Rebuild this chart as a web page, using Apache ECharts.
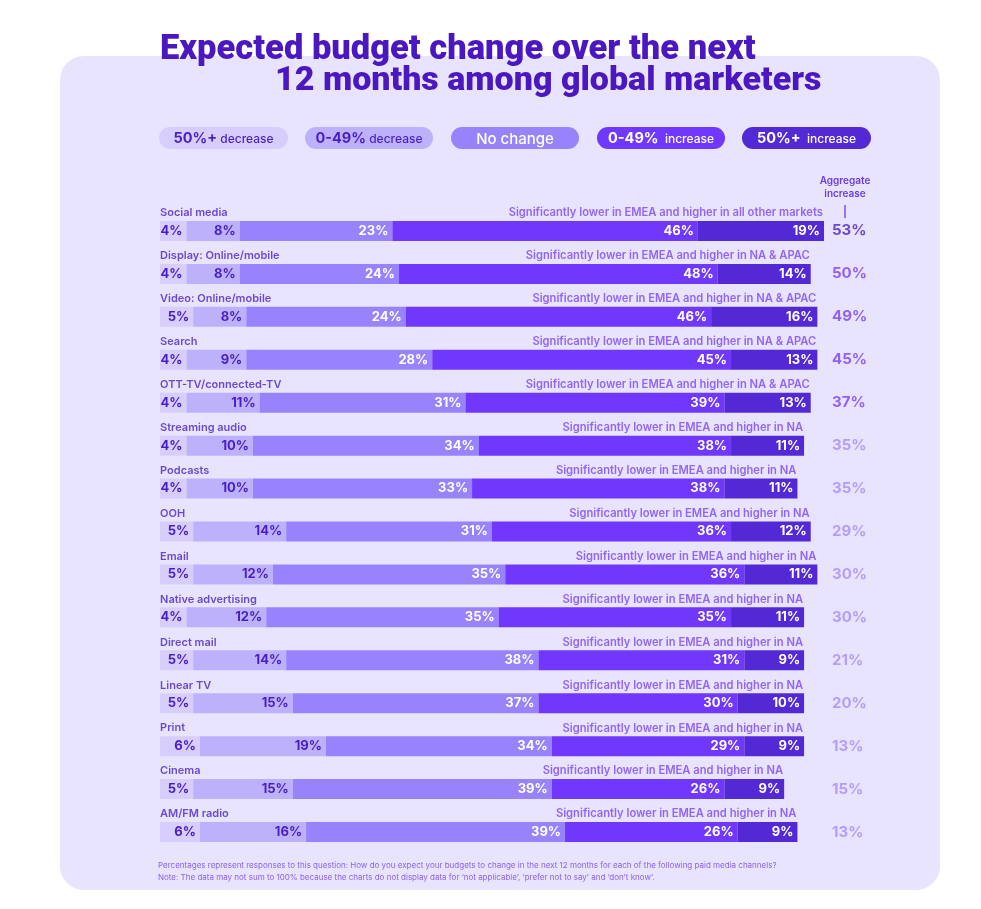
<!DOCTYPE html>
<html>
<head>
<meta charset="utf-8">
<script src="https://cdn.jsdelivr.net/npm/echarts@6/dist/echarts.min.js"></script>
<style>
html,body{margin:0;padding:0;background:#ffffff;}
#chart{width:981px;height:909px;}
</style>
</head>
<body>
<div id="chart"></div>
<script>
const categories = ["Social media","Display: Online/mobile","Video: Online/mobile","Search","OTT-TV/connected-TV","Streaming audio","Podcasts","OOH","Email","Native advertising","Direct mail","Linear TV","Print","Cinema","AM/FM radio"];
const seriesNames = ["50%+ decrease","0-49% decrease","No change","0-49% increase","50%+ increase"];
const dec50 = [4,4,5,4,4,4,4,5,5,4,5,5,6,5,6];
const dec049 = [8,8,8,9,11,10,10,14,12,12,14,15,19,15,16];
const noChange = [23,24,24,28,31,34,33,31,35,35,38,37,34,39,39];
const inc049 = [46,48,46,45,39,38,38,36,36,35,31,30,29,26,26];
const inc50 = [19,14,16,13,13,11,11,12,11,11,9,10,9,9,9];
const aggregate = [53,50,49,45,37,35,35,29,30,30,21,20,13,15,13];
const notes = [
 "Significantly lower in EMEA and higher in all other markets",
 "Significantly lower in EMEA and higher in NA & APAC",
 "Significantly lower in EMEA and higher in NA & APAC",
 "Significantly lower in EMEA and higher in NA & APAC",
 "Significantly lower in EMEA and higher in NA & APAC",
 "Significantly lower in EMEA and higher in NA",
 "Significantly lower in EMEA and higher in NA",
 "Significantly lower in EMEA and higher in NA",
 "Significantly lower in EMEA and higher in NA",
 "Significantly lower in EMEA and higher in NA",
 "Significantly lower in EMEA and higher in NA",
 "Significantly lower in EMEA and higher in NA",
 "Significantly lower in EMEA and higher in NA",
 "Significantly lower in EMEA and higher in NA",
 "Significantly lower in EMEA and higher in NA"
];
const footnote1 = "Percentages represent responses to this question: How do you expect your budgets to change in the next 12 months for each of the following paid media channels?";
const footnote2 = "Note: The data may not sum to 100% because the charts do not display data for \u2018not applicable\u2019, \u2018prefer not to say\u2019 and \u2018don\u2019t know\u2019.";
const titleLine1 = "Expected budget change over the next";
const titleLine2 = "12 months among global marketers";

const colors = ['#d8cefd','#bdb1fc','#9883fd','#6f38fc','#5329d5'];
const labelColors = ['#4a1fc2','#4a1fc2','#ffffff','#ffffff','#ffffff'];
const segData = [dec50, dec049, noChange, inc049, inc50];
const FONT = 'Inter, "Noto Sans", sans-serif';

const chart = echarts.init(document.getElementById('chart'));

const barSeries = segData.map((arr, i) => ({
  name: seriesNames[i],
  type: 'bar',
  stack: 'total',
  barWidth: 20,
  silent: true,
  itemStyle: {color: colors[i]},
  label: {
    show: true, position: 'insideRight', distance: 4,
    formatter: p => p.value + '%',
    color: labelColors[i], fontFamily: FONT, fontWeight: 700, fontSize: 13
  },
  data: arr
}));

const totals = categories.map((c, i) => segData.reduce((s, a) => s + a[i], 0));

function aggColor(i){
  if (i === 0) return '#4a22c4';
  if (aggregate[i] >= 37) return '#7a3ff6';
  return '#a78bf8';
}

const nameSeries = {
  type: 'scatter', symbolSize: 0.1, silent: true, itemStyle: {color: 'transparent'},
  label: {show: true, position: 'right', distance: 0, offset: [0, -18],
    formatter: p => categories[p.dataIndex], color: '#4a22c4', fontFamily: FONT, fontWeight: 600, fontSize: 11},
  data: categories.map((c, i) => [0, i])
};
const noteSeries = {
  type: 'scatter', symbolSize: 0.1, silent: true, itemStyle: {color: 'transparent'},
  label: {show: true, position: 'left', distance: 1, offset: [0, -18],
    formatter: p => notes[p.dataIndex], color: '#7a45f5', fontFamily: FONT, fontWeight: 600, fontSize: 11.2},
  data: totals.map((t, i) => [t, i])
};
const aggSeries = {
  type: 'scatter', symbolSize: 0.1, silent: true, itemStyle: {color: 'transparent'},
  label: {show: true, position: 'right', distance: 0,
    formatter: p => aggregate[p.dataIndex] + '%', fontFamily: FONT, fontWeight: 700, fontSize: 15},
  data: aggregate.map((a, i) => ({value: [101.2, i], label: {color: aggColor(i)}}))
};

// legend pills
const pills = [
  {x:159, w:129, big:'50%+', small:' decrease', fill:colors[0], color:'#4a1fc2'},
  {x:305, w:128, big:'0-49%', small:' decrease', fill:colors[1], color:'#4a1fc2'},
  {x:451, w:128, big:'No change', small:'', fill:colors[2], color:'#ffffff'},
  {x:597, w:128, big:'0-49%', small:'  increase', fill:colors[3], color:'#ffffff'},
  {x:742, w:129, big:'50%+', small:'  increase', fill:colors[4], color:'#ffffff'}
];
const pillGraphics = [];
pills.forEach((p, i) => {
  pillGraphics.push({type:'rect', left:p.x, top:127, shape:{width:p.w, height:22, r:11}, style:{fill:p.fill}, silent:true});
  pillGraphics.push({type:'text', x:p.x + p.w/2, y:139, silent:true, style:{
    text: i === 2 ? '{c|' + p.big + '}' : '{b|' + p.big + '}{s|' + p.small + '}',
    align:'center', verticalAlign:'middle',
    rich:{
      b:{fontFamily:FONT, fontWeight:700, fontSize:14.5, fill:p.color},
      s:{fontFamily:FONT, fontWeight:500, fontSize:12, fill:p.color},
      c:{fontFamily:FONT, fontWeight:500, fontSize:15, fill:p.color}
    }
  }});
});

const option = {
  animation: false,
  backgroundColor: '#ffffff',
  grid: {left: 160, top: 209.5, width: 730.4, height: 644, containLabel: false},
  xAxis: {type: 'value', min: 0, max: 110, show: false},
  yAxis: {type: 'category', data: categories, inverse: true, show: false},
  series: [...barSeries, nameSeries, noteSeries, aggSeries],
  graphic: [
    {type:'rect', left:60, top:56, z:-10, silent:true, shape:{width:880, height:834, r:24}, style:{fill:'#e9e4fe'}},
    {type:'text', x:160, y:50, silent:true, style:{text:titleLine1, fontFamily:'Roboto, sans-serif', fontWeight:900, fontSize:34.5, fill:'#4a17c0', verticalAlign:'middle'}},
    {type:'text', x:275, y:81, silent:true, style:{text:titleLine2, fontFamily:'Roboto, sans-serif', fontWeight:900, fontSize:34, fill:'#4a17c0', verticalAlign:'middle'}},
    ...pillGraphics,
    {type:'text', x:845, y:181, silent:true, style:{text:'Aggregate', align:'center', verticalAlign:'middle', fontFamily:FONT, fontWeight:600, fontSize:10, fill:'#6a3ce8'}},
    {type:'text', x:845, y:194, silent:true, style:{text:'increase', align:'center', verticalAlign:'middle', fontFamily:FONT, fontWeight:600, fontSize:10, fill:'#6a3ce8'}},
    {type:'line', silent:true, shape:{x1:845, y1:205, x2:845, y2:218}, style:{stroke:'#5a30d8', lineWidth:1.2}},
    {type:'text', x:158, y:866, silent:true, style:{text:footnote1, verticalAlign:'middle', fontFamily:FONT, fontSize:8, fill:'#8a60f2'}},
    {type:'text', x:158, y:878, silent:true, style:{text:footnote2, verticalAlign:'middle', fontFamily:FONT, fontSize:8, fill:'#8a60f2'}}
  ]
};
chart.setOption(option);
</script>
</body>
</html>
